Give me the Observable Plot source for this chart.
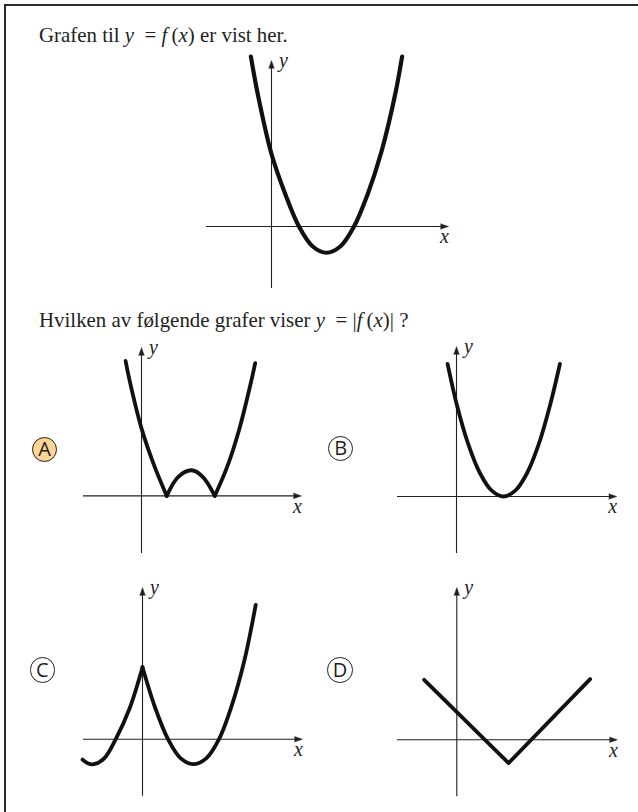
<!DOCTYPE html>
<html>
<head>
<meta charset="utf-8">
<script src="https://cdn.jsdelivr.net/npm/d3@7"></script>
<script src="https://cdn.jsdelivr.net/npm/@observablehq/plot@0.6"></script>
<style>
  html, body { margin: 0; padding: 0; background: #fff; }
  #page { position: relative; width: 638px; height: 812px; overflow: hidden; background: #fff; }
  #frame { position: absolute; left: 4px; top: 4px; width: 700px; height: 900px;
           border-top: 2.5px solid #2b2b2b; border-left: 2.5px solid #2b2b2b; }
  .q { position: absolute; left: 39px; font-family: "Liberation Serif", "DejaVu Serif", serif;
       font-size: 20.9px; line-height: 20px; color: #231f20; white-space: nowrap; }
  .q i { font-style: italic; }
  .opt { position: absolute; width: 25.6px; height: 25.6px; box-sizing: border-box;
         border: 1.2px solid #231f20; border-radius: 50%; background: #fff;
         display: flex; align-items: center; justify-content: center;
         font-family: "Open Sans", "Liberation Sans", sans-serif; font-size: 20px; line-height: 1; color: #231f20; }
  .opt.sel { background: #fdd595; }
  .g { position: absolute; }
</style>
</head>
<body>
<div id="page">
  <div id="frame"></div>
  <div class="q" style="top:24.5px">Grafen til <i>y</i>&nbsp; = <i>f</i>&#8201;(<i>x</i>) er vist her.</div>
  <div class="q" style="top:309.5px">Hvilken av følgende grafer viser <i>y</i>&nbsp; = |<i>f</i>&#8201;(<i>x</i>)| ?</div>
</div>
<script>
// ---------- DATA (in each graph's own units) ----------
// Given graph: y = f(x)
const fX   = [-0.75, -0.5, 0, 0.5, 1, 1.5, 2, 2.5, 3, 3.5, 4, 4.5, 4.75];
const fY   = [6.8, 5.3, 2.9, 1.3, 0, -0.8, -1.05, -0.8, 0, 1.3, 3.0, 5.3, 6.8];
const fSeg = [0, 0, 0, 0, 0, 0, 0, 0, 0, 0, 0, 0, 0];

// Option A: |f(x)|
const aX   = [-0.65, -0.5, 0, 0.5, 1.03,   1.03, 1.5, 2.04, 2.5, 2.99,   2.99, 3.5, 4, 4.5, 4.64];
const aY   = [6.0, 5.2, 3.0, 1.4, 0,       0, 0.85, 1.14, 0.85, 0,       0, 1.3, 3.0, 5.2, 5.9];
const aSeg = [0, 0, 0, 0, 0,               1, 1, 1, 1, 1,                2, 2, 2, 2, 2];

// Option B
const bX   = [-0.38, 0, 0.5, 1, 1.5, 2, 2.5, 3, 3.5, 4, 4.4];
const bY   = [5.7, 4.0, 2.25, 1.0, 0.25, 0, 0.25, 1.0, 2.25, 4.0, 5.7];
const bSeg = [0, 0, 0, 0, 0, 0, 0, 0, 0, 0, 0];

// Option C: f(|x|)
const cX   = [-2.35, -2.15, -1.9, -1.5, -1.05, -0.5, 0,   0, 0.5, 1, 1.5, 2, 2.5, 3, 3.5, 4, 4.44];
const cY   = [-0.85, -1.0, -1.04, -0.8, 0, 1.3, 3.0,      3.0, 1.3, 0, -0.8, -1.04, -0.8, 0, 1.4, 3.3, 5.6];
const cSeg = [0, 0, 0, 0, 0, 0, 0,                        1, 1, 1, 1, 1, 1, 1, 1, 1, 1];

// Option D
const dX   = [-1.28, 2.03, 5.23];
const dY   = [2.5, -0.97, 2.53];
const dSeg = [0, 0, 0];

const optionLetters = ["A", "B", "C", "D"];
const axisLabels = ["x", "y"];

// ---------- LAYOUT ----------
const ink = "#231f20";
const graphs = [
  {ox: 271,   oy: 226,   ux: 27.5, uy: 25,    xl: -65,   xr: 177,   yb: -62,   yt: 166,   sw: 4.2, xs: fX, ys: fY, seg: fSeg, curve: "catmull-rom"},
  {ox: 140.7, oy: 495.7, ux: 24.5, uy: 22.5,  xl: -58,   xr: 160,   yb: -57.6, yt: 148.4, sw: 3.8, xs: aX, ys: aY, seg: aSeg, curve: "catmull-rom"},
  {ox: 455.7, oy: 496,   ux: 23.5, uy: 23.25, xl: -59,   xr: 160.3, yb: -57,   yt: 150,   sw: 3.8, xs: bX, ys: bY, seg: bSeg, curve: "catmull-rom"},
  {ox: 141.7, oy: 739,   ux: 25.5, uy: 24,    xl: -59,   xr: 160,   yb: -57,   yt: 151.7, sw: 3.8, xs: cX, ys: cY, seg: cSeg, curve: "catmull-rom"},
  {ox: 456,   oy: 739,   ux: 25.5, uy: 24,    xl: -59.3, xr: 160.7, yb: -57,   yt: 152.3, sw: 3.8, xs: dX, ys: dY, seg: dSeg, curve: "linear"}
];
const optionCircles = [
  {cx: 44.5, cy: 449.5, sel: true},
  {cx: 340.7, cy: 448.5, sel: false},
  {cx: 42.3, cy: 670, sel: false},
  {cx: 340, cy: 670, sel: false}
];

const page = document.getElementById("page");
const serif = "Liberation Serif, DejaVu Serif, serif";

function drawGraph(g) {
  const pad = 12;
  const W = g.xr - g.xl + 2 * pad;
  const H = g.yt - g.yb + 2 * pad;
  const left = g.ox + g.xl - pad;
  const top = g.oy - g.yt - pad;
  const xTip = g.xr / g.ux, yTip = g.yt / g.uy;
  const idx = d3.range(g.xs.length);
  const svg = Plot.plot({
    width: W, height: H, margin: 0,
    x: {domain: [(g.xl - pad) / g.ux, (g.xr + pad) / g.ux], range: [0, W], axis: null},
    y: {domain: [(g.yb - pad) / g.uy, (g.yt + pad) / g.uy], range: [H, 0], axis: null},
    style: {background: "transparent", overflow: "visible"},
    marks: [
      // x axis line and arrow
      Plot.ruleY([0], {x1: () => g.xl / g.ux, x2: () => (g.xr - 5) / g.ux, stroke: ink, strokeWidth: 1.1}),
      Plot.vector([0], {x: () => xTip, y: () => 0, rotate: 90, length: 8, anchor: "end", shape: "spike", r: 2.8, fill: ink, stroke: ink, strokeWidth: 0.4}),
      // y axis line and arrow
      Plot.ruleX([0], {y1: () => g.yb / g.uy, y2: () => (g.yt - 5) / g.uy, stroke: ink, strokeWidth: 1.1}),
      Plot.vector([0], {x: () => 0, y: () => yTip, rotate: 0, length: 8, anchor: "end", shape: "spike", r: 2.8, fill: ink, stroke: ink, strokeWidth: 0.4}),
      // axis labels
      Plot.text([axisLabels[0]], {x: () => xTip, y: () => 0, text: d => d, dx: -4, dy: 10.5, fontStyle: "italic", fontFamily: serif, fontSize: 20, fill: ink}),
      Plot.text([axisLabels[1]], {x: () => 0, y: () => yTip, text: d => d, dx: 12, dy: 0.5, fontStyle: "italic", fontFamily: serif, fontSize: 20, fill: ink}),
      // the curve
      Plot.line(idx, {x: i => g.xs[i], y: i => g.ys[i], z: i => g.seg[i], curve: g.curve,
        stroke: "#111", strokeWidth: g.sw, strokeLinecap: "round", strokeLinejoin: "round"})
    ]
  });
  svg.classList.add("g");
  svg.style.left = left + "px";
  svg.style.top = top + "px";
  page.appendChild(svg);
}

graphs.forEach(drawGraph);

optionCircles.forEach((c, i) => {
  const el = document.createElement("div");
  el.className = "opt" + (c.sel ? " sel" : "");
  el.style.left = (c.cx - 12.8) + "px";
  el.style.top = (c.cy - 12.8) + "px";
  el.textContent = optionLetters[i];
  page.appendChild(el);
});
</script>
</body>
</html>
